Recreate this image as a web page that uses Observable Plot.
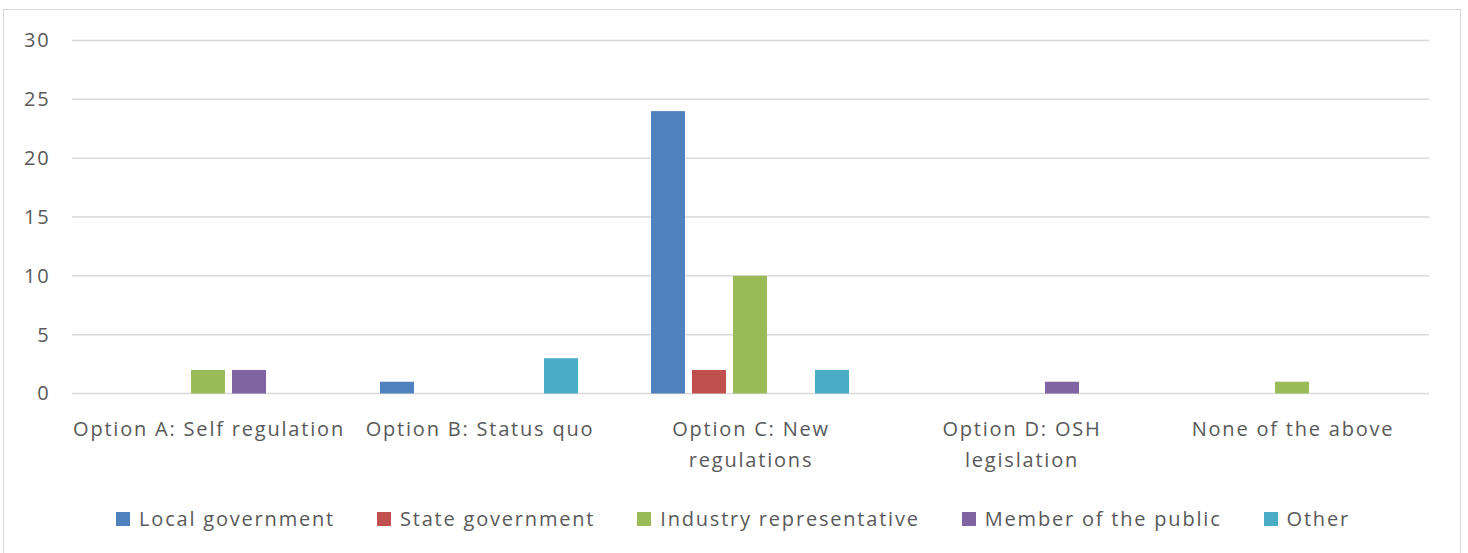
<!DOCTYPE html>
<html>
<head>
<meta charset="utf-8">
<script src="https://cdn.jsdelivr.net/npm/d3@7"></script>
<script src="https://cdn.jsdelivr.net/npm/@observablehq/plot@0.6"></script>
<style>
  html, body { margin: 0; padding: 0; background: #fff; overflow: hidden; width: 1468px; height: 553px; }
  #frame { position: absolute; left: 3px; top: 9px; width: 1458px; height: 600px; border: 1.5px solid #d9d9d9; box-sizing: border-box; }
  #chart { position: absolute; left: 0; top: 0; }
  #legend { position: absolute; left: 4px; width: 1458px; top: 505px; display: flex; justify-content: center; align-items: center;
            font-family: "Open Sans", sans-serif; font-size: 20px; letter-spacing: 1.8px; color: #595959; }
  .item { display: flex; align-items: center; margin: 0 21px; }
  .sw { width: 14px; height: 14px; margin-right: 9px; }
</style>
</head>
<body>
<div id="frame"></div>
<div id="chart"></div>
<div id="legend"></div>
<script>
const categories = ["Option A: Self regulation", "Option B: Status quo", "Option C: New regulations", "Option D: OSH legislation", "None of the above"];
const categoryLabels = ["Option A: Self regulation", "Option B: Status quo", "Option C: New\nregulations", "Option D: OSH\nlegislation", "None of the above"];
const series = ["Local government", "State government", "Industry representative", "Member of the public", "Other"];
const seriesColors = ["#4F81BD", "#C0504D", "#9BBB59", "#8064A2", "#4BACC6"];
const localGovernment = [0, 1, 24, 0, 0];
const stateGovernment = [0, 0, 2, 0, 0];
const industryRepresentative = [2, 0, 10, 0, 1];
const memberOfThePublic = [2, 0, 0, 1, 0];
const other = [0, 3, 2, 0, 0];
const yTicks = [0, 5, 10, 15, 20, 25, 30];

const seriesValues = [localGovernment, stateGovernment, industryRepresentative, memberOfThePublic, other];
const rows = [];
series.forEach((s, i) => categories.forEach((c, j) => {
  if (seriesValues[i][j] > 0) rows.push({category: c, series: s, value: seriesValues[i][j]});
}));

const W = 1468, H = 480, ML = 72, MR = 39, MT = 40.5, MB = 86.5;

// gridlines spanning the whole frame (across facet gaps), positioned by the y scale
const fullGrid = Plot.frame({
  facet: "super",
  render: (index, scales) => {
    const g = d3.create("svg:g").attr("stroke", "#d9d9d9").attr("stroke-width", 1.5);
    for (const t of yTicks) {
      const y = scales.y(t);
      g.append("line").attr("x1", ML).attr("x2", W - MR).attr("y1", y).attr("y2", y);
    }
    return g.node();
  }
});

const chart = Plot.plot({
  width: W,
  height: H,
  marginLeft: ML,
  marginRight: MR,
  marginTop: MT,
  marginBottom: MB,
  style: {fontFamily: "'Open Sans', sans-serif", fontSize: "20px", color: "#595959", background: "transparent", letterSpacing: "1.8px"},
  fx: {domain: categories, paddingInner: 0.236, paddingOuter: 0.118, label: null},
  x: {domain: series, paddingInner: 0.17, paddingOuter: 0.085, axis: null},
  y: {domain: [0, 30], label: null},
  color: {domain: series, range: seriesColors},
  marks: [
    fullGrid,
    Plot.barY(rows, {fx: "category", x: "series", y: "value", fill: "series"}),
    Plot.axisY(yTicks, {tickSize: 0, tickPadding: 55, label: null, fill: "#595959"}),
    Plot.axisFx({anchor: "bottom", tickSize: 0, tickPadding: 20, label: null, fill: "#595959", lineHeight: 1.55,
                 tickFormat: d => categoryLabels[categories.indexOf(d)]})
  ]
});
document.getElementById("chart").appendChild(chart);

const legend = document.getElementById("legend");
series.forEach((s, i) => {
  const item = document.createElement("div");
  item.className = "item";
  const sw = document.createElement("div");
  sw.className = "sw";
  sw.style.background = seriesColors[i];
  const label = document.createElement("span");
  label.textContent = s;
  item.appendChild(sw);
  item.appendChild(label);
  legend.appendChild(item);
});
</script>
</body>
</html>
